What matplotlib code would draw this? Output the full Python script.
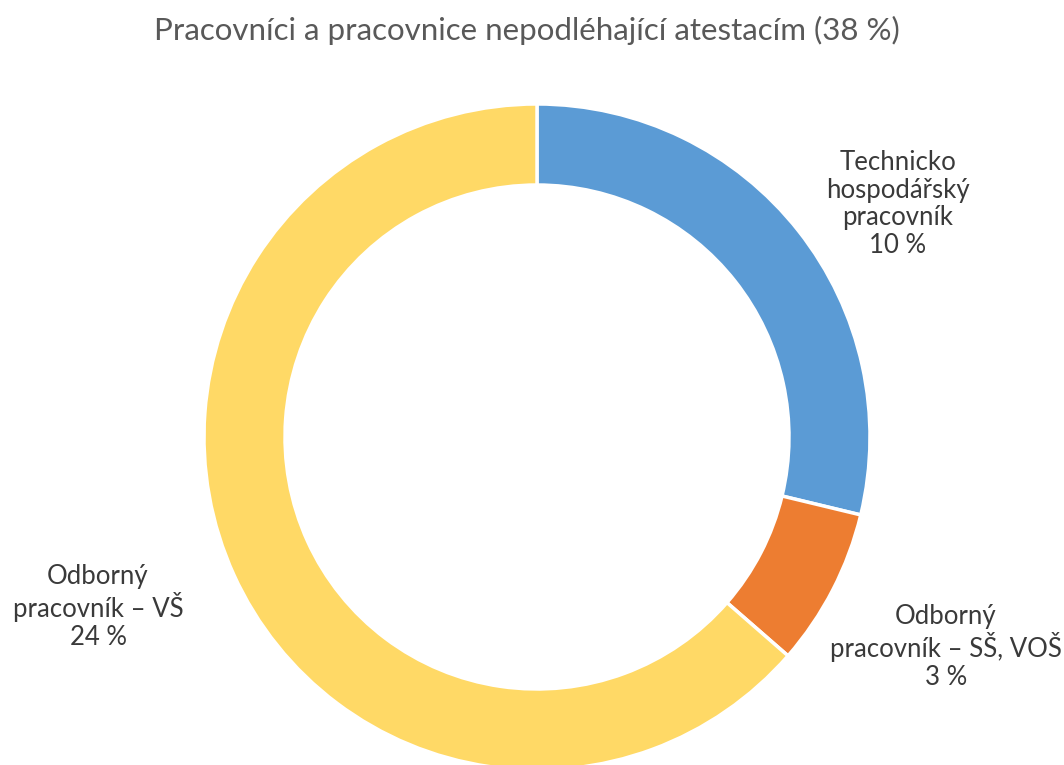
import matplotlib.pyplot as plt

# data
categories = ['Technicko\nhospodářský\npracovník', 'Odborný\npracovník – SŠ, VOŠ', 'Odborný\npracovník – VŠ']
shares = [10.9, 2.9, 24.1]
label_pct = ['10 %', '3 %', '24 %']
colors = ['#5B9BD5', '#ED7D31', '#FFD966']
title = 'Pracovníci a pracovnice nepodléhající atestacím (38 %)'

plt.rcParams['font.family'] = ['Lato', 'DejaVu Sans']

fig = plt.figure(figsize=(10.64, 7.65), dpi=100)
ax = fig.add_axes([0, 0, 1, 1])

# donut, pixel coordinates (y up)
cx, cy, r = 537, 765 - 437, 333
ax.pie(shares, colors=colors, startangle=90, counterclock=False,
       center=(cx, cy), radius=r,
       wedgeprops=dict(width=81, edgecolor='white', linewidth=2.5))
ax.set_xlim(0, 1064)
ax.set_ylim(0, 765)
ax.set_aspect('equal')
ax.axis('off')

# labels
label_pos = [(898, 765 - 204), (946, 765 - 647), (98, 765 - 607)]
for cat, pct, (x, y) in zip(categories, label_pct, label_pos):
    ax.text(x, y, cat + '\n' + pct, ha='center', va='center', fontsize=18.5,
            color='#3a3a3a', linespacing=1.13)

ax.text(527, 765 - 30, title, ha='center', va='center', fontsize=22.5, color='#595959')

fig.savefig('out.png', dpi=100)
